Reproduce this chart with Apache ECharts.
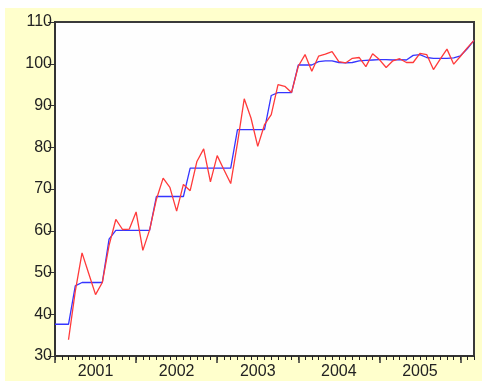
<!DOCTYPE html>
<html>
<head>
<meta charset="utf-8">
<script src="https://cdn.jsdelivr.net/npm/echarts@6/dist/echarts.min.js"></script>
<style>
html,body{margin:0;padding:0;background:#ffffff;}
#chart{width:482px;height:381px;}
</style>
</head>
<body>
<div id="chart"></div>
<script>
// Year tick labels (centred in each year)
var yearLabels = ['2001', '2002', '2003', '2004', '2005'];
var startYear = 2001;

// Monthly categories (63 observations)
var months = [];
for (var k = 0; k < 63; k++) {
  var yy = startYear + Math.floor(k / 12);
  var mm = (k % 12) + 1;
  months.push(yy + 'M' + (mm < 10 ? '0' + mm : mm));
}

// Red series (monthly values)
var redSeries = [null, null, 33.9, 45.5, 54.7, 49.7, 44.7, 47.6, 56.5, 62.7,
  60.3, 60.4, 64.5, 55.3, 60.2, 67.5, 72.6, 70.4, 64.7, 71.1,
  69.6, 76.6, 79.6, 71.7, 78.0, 74.6, 71.3, 81.0, 91.6, 87.0,
  80.2, 85.4, 87.8, 95.0, 94.6, 93.1, 99.4, 102.2, 98.2, 101.8,
  102.3, 102.9, 100.5, 100.2, 101.3, 101.5, 99.3, 102.4, 101.0, 99.1,
  100.7, 101.2, 100.3, 100.3, 102.5, 102.2, 98.6, 101.1, 103.5, 99.9,
  101.8, 103.8, 105.6];

// Blue series (step-like values)
var blueSeries = [37.6, 37.6, 37.6, 46.8, 47.6, 47.6, 47.6, 47.6, 58.0, 60.1,
  60.1, 60.1, 60.1, 60.1, 60.1, 68.2, 68.2, 68.2, 68.2, 68.2,
  75.0, 75.0, 75.0, 75.0, 75.0, 75.0, 75.0, 84.2, 84.2, 84.2,
  84.2, 84.2, 92.4, 93.1, 93.1, 93.1, 99.7, 99.7, 99.7, 100.5,
  100.7, 100.7, 100.3, 100.2, 100.3, 100.7, 100.8, 100.9, 101.0, 101.0,
  100.9, 101.0, 100.9, 102.0, 102.2, 101.5, 101.3, 101.3, 101.3, 101.4,
  101.9, 103.6, 105.6];

var chart = echarts.init(document.getElementById('chart'), null, {renderer: 'canvas'});
var axisColor = '#333333';
var font = 'Liberation Sans, Arial, sans-serif';

chart.setOption({
  animation: false,
  backgroundColor: '#FFFFCC',
  graphic: [
    {type: 'rect', left: 0, top: 0, shape: {width: 482, height: 8}, style: {fill: '#ffffff'}, silent: true, z: -10},
    {type: 'rect', left: 0, top: 0, shape: {width: 5, height: 381}, style: {fill: '#ffffff'}, silent: true, z: -10}
  ],
  grid: {
    left: 55, right: 8, top: 22, bottom: 25,
    show: true, backgroundColor: '#fefefe',
    borderColor: '#3a3a3a', borderWidth: 2
  },
  xAxis: [
    {
      type: 'category', data: months, boundaryGap: false, position: 'bottom',
      axisLine: {show: true, lineStyle: {color: axisColor, width: 2}},
      axisTick: {show: true, interval: 0, length: 4, lineStyle: {color: '#222', width: 1}},
      axisLabel: {
        show: true, interval: function (i) { return i % 12 === 6; },
        formatter: function (v, i) { return yearLabels[Math.floor(i / 12)] || ''; },
        fontSize: 16, color: '#222', fontFamily: font, margin: 8
      },
      splitLine: {show: false}
    },
    {
      type: 'category', data: months, boundaryGap: false, position: 'bottom',
      axisLine: {show: false},
      axisTick: {show: true, interval: function (i) { return i % 12 === 0; }, length: 7, lineStyle: {color: axisColor, width: 1.5}},
      axisLabel: {show: false},
      splitLine: {show: false}
    }
  ],
  yAxis: {
    type: 'value', min: 30, max: 110, interval: 10,
    axisLine: {show: true, lineStyle: {color: axisColor, width: 2}},
    axisTick: {show: true, length: 7, lineStyle: {color: axisColor, width: 1}},
    axisLabel: {fontSize: 16, color: '#222', fontFamily: font, margin: 3},
    splitLine: {show: false}
  },
  series: [
    {
      type: 'line', xAxisIndex: 0, data: blueSeries, showSymbol: false,
      lineStyle: {color: '#3535ff', width: 1.3}, itemStyle: {color: '#3535ff'}
    },
    {
      type: 'line', xAxisIndex: 0, data: redSeries, showSymbol: false, connectNulls: false,
      lineStyle: {color: '#ff3a3a', width: 1.3}, itemStyle: {color: '#ff3a3a'}
    }
  ]
});
</script>
</body>
</html>
